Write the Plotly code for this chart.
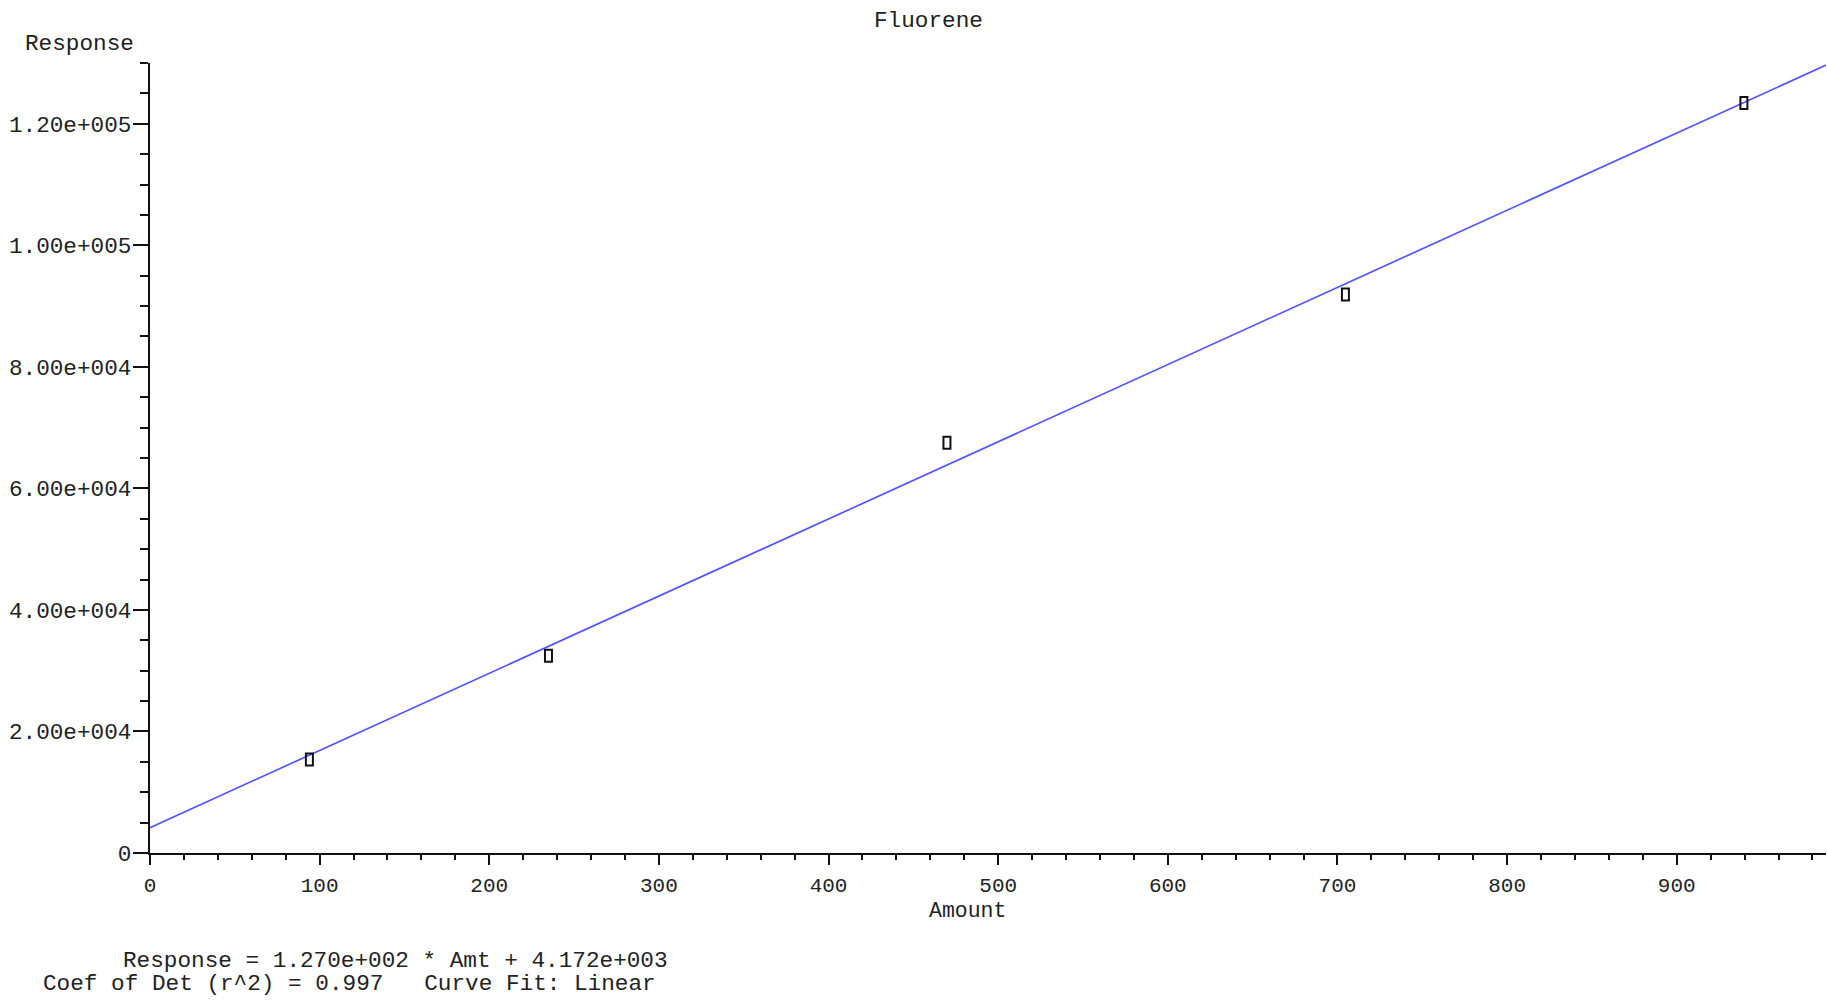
import plotly.graph_objects as go

# Calibration standards for Fluorene
amount = [93.96, 234.9, 469.8, 704.7, 939.6]
response = [15400, 32470, 67520, 91920, 123400]

# Linear fit parameters
slope = 127.0
intercept = 4172.0
fit_x = [0, 988]

y_tickvals = [0, 20000, 40000, 60000, 80000, 100000, 120000]
y_ticktext = ["0", "2.00e+004", "4.00e+004", "6.00e+004", "8.00e+004", "1.00e+005", "1.20e+005"]
x_tickvals = [0, 100, 200, 300, 400, 500, 600, 700, 800, 900]

FONT = "Courier New, Liberation Mono, monospace"
TXT = "#222222"
FS = 22.7

fig = go.Figure()

fig.add_trace(go.Scatter(
    x=fit_x,
    y=[slope * v + intercept for v in fit_x],
    mode="lines",
    line=dict(color="rgb(85,85,255)", width=1.7),
    hoverinfo="skip",
    showlegend=False,
))

# Open rectangular markers, fixed pixel size, anchored at each standard
shapes = []
for a, r in zip(amount, response):
    shapes.append(dict(
        type="rect", xref="x", yref="y",
        xsizemode="pixel", ysizemode="pixel",
        xanchor=a, yanchor=r,
        x0=-3.5, x1=3.5, y0=-6, y1=6,
        line=dict(color="#111", width=2),
        fillcolor="rgba(0,0,0,0)",
    ))

fig.add_trace(go.Scatter(
    x=amount, y=response, mode="markers",
    marker=dict(size=10, opacity=0),
    showlegend=False,
))

annotations = [
    dict(text="Fluorene", x=0.4645, y=1.053, xanchor="center", yanchor="middle", size=FS),
    dict(text="Response", x=-0.0418, y=1.0236, xanchor="center", yanchor="middle", size=FS),
    dict(text="Amount", x=0.488, y=-0.0735, xanchor="center", yanchor="middle", size=21.5),
    dict(text="Response = 1.270e+002 * Amt + 4.172e+003", x=-0.0173, y=-0.137,
         xanchor="left", yanchor="middle", size=FS),
    dict(text="Coef of Det (r^2) = 0.997   Curve Fit: Linear", x=-0.065, y=-0.166,
         xanchor="left", yanchor="middle", size=FS),
]
for a in annotations:
    size = a.pop("size")
    a.update(xref="paper", yref="paper", showarrow=False,
             font=dict(family=FONT, size=size, color=TXT))

fig.update_layout(
    width=1827, height=1000,
    margin=dict(l=150, r=1, t=63, b=147),
    paper_bgcolor="white", plot_bgcolor="white",
    shapes=shapes,
    annotations=annotations,
    showlegend=False,
    xaxis=dict(
        range=[0, 988], showgrid=False, zeroline=False,
        showline=True, linecolor="#111", linewidth=2,
        tickmode="array", tickvals=x_tickvals,
        ticks="outside", ticklen=10, tickwidth=2, tickcolor="#111",
        ticklabelstandoff=2,
        tickfont=dict(family=FONT, size=21, color=TXT),
        minor=dict(dtick=20, ticks="outside", ticklen=5, tickwidth=2, tickcolor="#111"),
    ),
    yaxis=dict(
        range=[0, 130000], showgrid=False, zeroline=False,
        showline=True, linecolor="#111", linewidth=2,
        tickmode="array", tickvals=y_tickvals, ticktext=y_ticktext,
        ticks="outside", ticklen=15, tickwidth=2, tickcolor="#111",
        ticklabelstandoff=-3,
        tickfont=dict(family=FONT, size=FS, color=TXT),
        minor=dict(dtick=5000, ticks="outside", ticklen=8, tickwidth=2, tickcolor="#111"),
    ),
)

fig.write_html("out.html")
